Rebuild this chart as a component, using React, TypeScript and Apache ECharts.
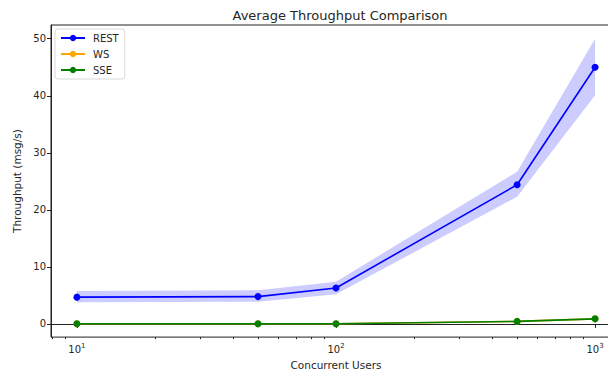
import React, { useEffect, useRef } from "react";
import * as echarts from "echarts";

const users = [10, 50, 100, 500, 1000];
const restMean = [4.7, 4.8, 6.3, 24.4, 45.0];
const restLow = [3.8, 3.9, 5.2, 22.3, 40.1];
const restHigh = [5.8, 5.9, 7.4, 26.7, 50.0];
const wsMean = [0.05, 0.05, 0.05, 0.45, 0.9];
const sseMean = [0.05, 0.05, 0.05, 0.45, 0.9];
const xMajorTicks = [10, 100, 1000];
const xMinorTicks = [8, 9, 20, 30, 40, 50, 60, 70, 80, 90, 200, 300, 400, 500, 600, 700, 800, 900];
const yTicks = [0, 10, 20, 30, 40, 50];
const seriesNames = ["REST", "WS", "SSE"];

const FONT = "DejaVu Sans";
const TXT = "#262626";
const CHART_W = 640;

export default function App() {
  const ref = useRef<HTMLDivElement>(null);
  useEffect(() => {
    if (!ref.current) return;
    const chart = echarts.init(ref.current, undefined, { renderer: "svg" });
    const pairs = (ys: number[]) => users.map((u, i) => [u, ys[i]]);
    const xMin = Math.pow(10, 0.9);
    const xMax = Math.pow(10, 3.1);
    const option: any = {
      animation: false,
      backgroundColor: "#fff",
      textStyle: { fontFamily: FONT },
      title: {
        text: "Average Throughput Comparison",
        left: 335,
        textAlign: "center",
        top: 4,
        textStyle: { fontFamily: FONT, fontSize: 13, fontWeight: "normal", color: TXT },
      },
      legend: {
        data: seriesNames,
        orient: "vertical",
        left: 55,
        top: 29,
        itemWidth: 24,
        itemHeight: 8,
        itemGap: 6,
        padding: [4, 6, 4, 5],
        backgroundColor: "#fff",
        borderColor: "#d8d8d8",
        borderWidth: 1,
        borderRadius: 3,
        textStyle: { fontFamily: FONT, fontSize: 10, color: TXT, padding: [0, 0, 0, 3] },
      },
      grid: {
        left: 51,
        top: 25,
        right: CHART_W - 621,
        bottom: 35,
        show: true,
        borderColor: "#222",
        borderWidth: 1,
        backgroundColor: "transparent",
      },
      xAxis: [
        {
          type: "log",
          logBase: 10,
          min: xMin,
          max: xMax,
          position: "bottom",
          name: "Concurrent Users",
          nameLocation: "middle",
          nameGap: 20,
          nameTextStyle: { fontFamily: FONT, fontSize: 10.5, color: TXT },
          axisLine: { show: true, lineStyle: { color: "#222", width: 1 } },
          axisTick: { show: true, length: 4, lineStyle: { color: "#222" }, customValues: xMajorTicks },
          axisLabel: {
            customValues: xMajorTicks,
            margin: 5,
            fontFamily: FONT,
            fontSize: 10,
            color: TXT,
            formatter: (v: number) => {
              const e = String(Math.round(Math.log10(v)));
              return "{b|10}{s|" + e + "}";
            },
            rich: {
              b: { fontFamily: FONT, fontSize: 10, color: TXT, verticalAlign: "bottom" },
              s: { fontFamily: FONT, fontSize: 7, color: TXT, verticalAlign: "top", padding: [0, 0, 5, 0] },
            },
          },
          splitLine: { show: false },
          minorTick: { show: false },
        },
        {
          type: "log",
          logBase: 10,
          min: xMin,
          max: xMax,
          position: "bottom",
          offset: 0,
          axisLine: { show: false },
          axisTick: { show: true, length: 2, lineStyle: { color: "#222" }, customValues: xMinorTicks },
          axisLabel: { show: false, customValues: [] },
          splitLine: { show: false },
        },
      ],
      yAxis: {
        type: "value",
        min: -2.3,
        max: 52.4,
        name: "Throughput (msg/s)",
        nameLocation: "middle",
        nameGap: 28,
        nameRotate: 90,
        nameTextStyle: { fontFamily: FONT, fontSize: 10.5, color: TXT },
        axisLine: { show: true, lineStyle: { color: "#222", width: 1 } },
        axisTick: { show: true, length: 4, lineStyle: { color: "#222" }, customValues: yTicks },
        axisLabel: { customValues: yTicks, margin: 5, fontFamily: FONT, fontSize: 10, color: TXT },
        splitLine: { show: false },
      },
      series: [
        {
          type: "custom",
          name: "REST band",
          xAxisIndex: 0,
          yAxisIndex: 0,
          z: 1,
          silent: true,
          data: [[users[0], restMean[0]]],
          renderItem: (params: any, api: any) => {
            const top = users.map((u, i) => api.coord([u, restHigh[i]]));
            const bot = users.map((u, i) => api.coord([u, restLow[i]])).reverse();
            return {
              type: "polygon",
              shape: { points: top.concat(bot) },
              style: { fill: "rgba(0,0,255,0.2)", stroke: "none" },
            };
          },
        },
        {
          type: "line",
          name: "REST",
          xAxisIndex: 0,
          z: 3,
          data: pairs(restMean),
          color: "#0000ff",
          symbol: "circle",
          symbolSize: 7,
          lineStyle: { width: 1.6, color: "#0000ff" },
          itemStyle: { color: "#0000ff" },
        },
        {
          type: "line",
          name: "WS",
          xAxisIndex: 0,
          z: 3,
          data: pairs(wsMean),
          color: "#ffa500",
          symbol: "circle",
          symbolSize: 7,
          lineStyle: { width: 1.6, color: "#ffa500" },
          itemStyle: { color: "#ffa500" },
        },
        {
          type: "line",
          name: "SSE",
          xAxisIndex: 0,
          z: 4,
          data: pairs(sseMean),
          color: "#008000",
          symbol: "circle",
          symbolSize: 7,
          lineStyle: { width: 1.6, color: "#008000" },
          itemStyle: { color: "#008000" },
        },
      ],
    };
    chart.setOption(option);
    return () => chart.dispose();
  }, []);
  return (
    <div
      style={{ position: "fixed", left: 0, top: 0, width: 608, height: 375, overflow: "hidden", background: "#fff" }}
    >
      <div ref={ref} style={{ width: CHART_W, height: 375 }} />
    </div>
  );
}
